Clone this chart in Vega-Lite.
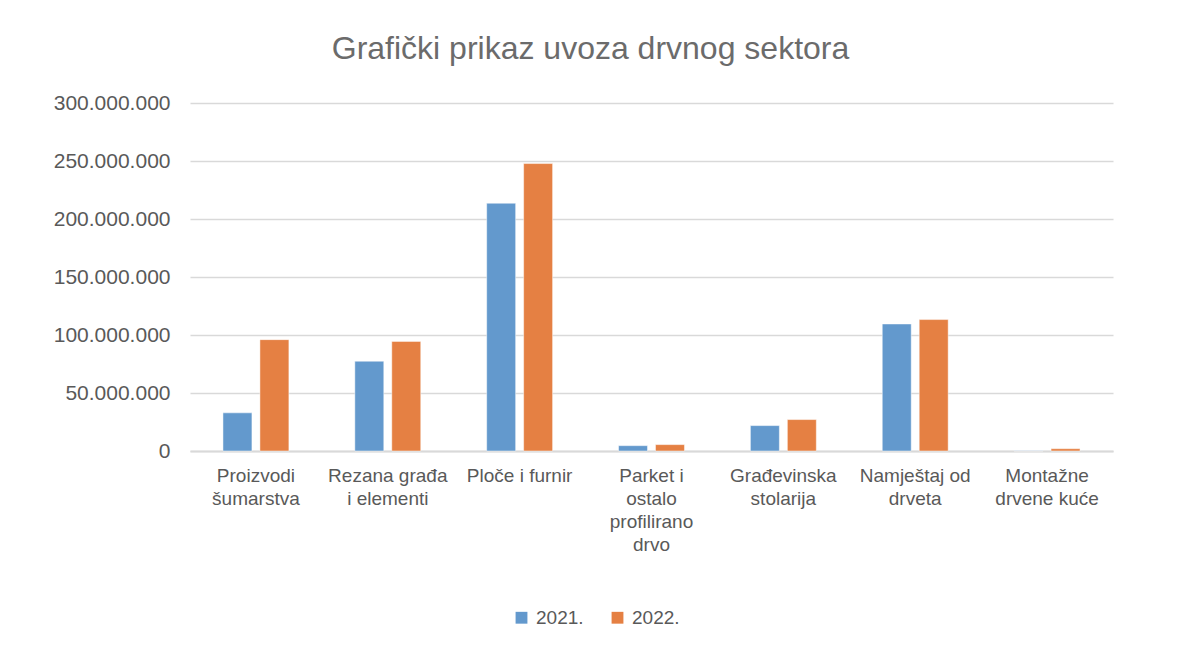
{
  "$schema": "https://vega.github.io/schema/vega-lite/v6.json",
  "width": 923,
  "height": 348,
  "autosize": {"type": "none"},
  "padding": {"left": 190, "top": 103, "right": 85, "bottom": 195},
  "background": "white",
  "title": {
    "text": "Grafički prikaz uvoza drvnog sektora",
    "fontSize": 32,
    "font": "Liberation Sans",
    "fontWeight": "normal",
    "color": "#6b6b6b",
    "anchor": "middle",
    "dx": -61,
    "offset": 26
  },
  "data": {
    "values": [
      {"kategorija": "Proizvodi šumarstva", "godina": "2021.", "vrijednost": 32900000},
      {"kategorija": "Proizvodi šumarstva", "godina": "2022.", "vrijednost": 96000000},
      {"kategorija": "Rezana građa i elementi", "godina": "2021.", "vrijednost": 77400000},
      {"kategorija": "Rezana građa i elementi", "godina": "2022.", "vrijednost": 94500000},
      {"kategorija": "Ploče i furnir", "godina": "2021.", "vrijednost": 213600000},
      {"kategorija": "Ploče i furnir", "godina": "2022.", "vrijednost": 247800000},
      {"kategorija": "Parket i ostalo profilirano drvo", "godina": "2021.", "vrijednost": 4600000},
      {"kategorija": "Parket i ostalo profilirano drvo", "godina": "2022.", "vrijednost": 5500000},
      {"kategorija": "Građevinska stolarija", "godina": "2021.", "vrijednost": 21900000},
      {"kategorija": "Građevinska stolarija", "godina": "2022.", "vrijednost": 27100000},
      {"kategorija": "Namještaj od drveta", "godina": "2021.", "vrijednost": 109500000},
      {"kategorija": "Namještaj od drveta", "godina": "2022.", "vrijednost": 113300000},
      {"kategorija": "Montažne drvene kuće", "godina": "2021.", "vrijednost": 200000},
      {"kategorija": "Montažne drvene kuće", "godina": "2022.", "vrijednost": 2000000}
    ]
  },
  "mark": {"type": "bar", "stroke": "white", "strokeWidth": 0.8, "strokeOpacity": 0.6},
  "encoding": {
    "x": {
      "field": "kategorija",
      "type": "nominal",
      "sort": null,
      "scale": {"paddingInner": 0.5, "paddingOuter": 0.25},
      "axis": {
        "title": null,
        "labelAngle": 0,
        "labelExpr": "{'Proizvodi šumarstva': ['Proizvodi', 'šumarstva'], 'Rezana građa i elementi': ['Rezana građa', 'i elementi'], 'Ploče i furnir': ['Ploče i furnir'], 'Parket i ostalo profilirano drvo': ['Parket i', 'ostalo', 'profilirano', 'drvo'], 'Građevinska stolarija': ['Građevinska', 'stolarija'], 'Namještaj od drveta': ['Namještaj od', 'drveta'], 'Montažne drvene kuće': ['Montažne', 'drvene kuće']}[datum.label]",
        "domain": true,
        "domainColor": "#D9D9D9",
        "domainWidth": 2,
        "ticks": false,
        "labelPadding": 15,
        "labelBaseline": "top",
        "labelFont": "Liberation Sans",
        "labelFontSize": 19,
        "labelLineHeight": 23,
        "labelColor": "#595959",
        "labelLimit": 0
      }
    },
    "xOffset": {
      "field": "godina",
      "type": "nominal",
      "scale": {"paddingInner": 0.216, "paddingOuter": 0}
    },
    "y": {
      "field": "vrijednost",
      "type": "quantitative",
      "scale": {"domain": [0, 300000000]},
      "axis": {
        "title": null,
        "values": [0, 50000000, 100000000, 150000000, 200000000, 250000000, 300000000],
        "format": ",d",
        "grid": true,
        "gridColor": "#D9D9D9",
        "gridWidth": 1.5,
        "domain": false,
        "ticks": false,
        "tickSize": 0,
        "labelPadding": 20,
        "labelFont": "Liberation Sans",
        "labelFontSize": 21,
        "labelColor": "#595959"
      }
    },
    "color": {
      "field": "godina",
      "type": "nominal",
      "scale": {"domain": ["2021.", "2022."], "range": ["#6399CD", "#E58043"]},
      "legend": {
        "title": null,
        "orient": "none",
        "legendX": 322,
        "legendY": 505,
        "direction": "horizontal",
        "symbolType": "square",
        "symbolSize": 140,
        "symbolStrokeWidth": 0,
        "labelFont": "Liberation Sans",
        "labelFontSize": 19,
        "labelColor": "#595959",
        "columnPadding": 24,
        "labelOffset": 5
      }
    }
  },
  "config": {
    "view": {"stroke": null},
    "locale": {
      "number": {"decimal": ",", "thousands": ".", "grouping": [3], "currency": ["", " €"]}
    }
  }
}
